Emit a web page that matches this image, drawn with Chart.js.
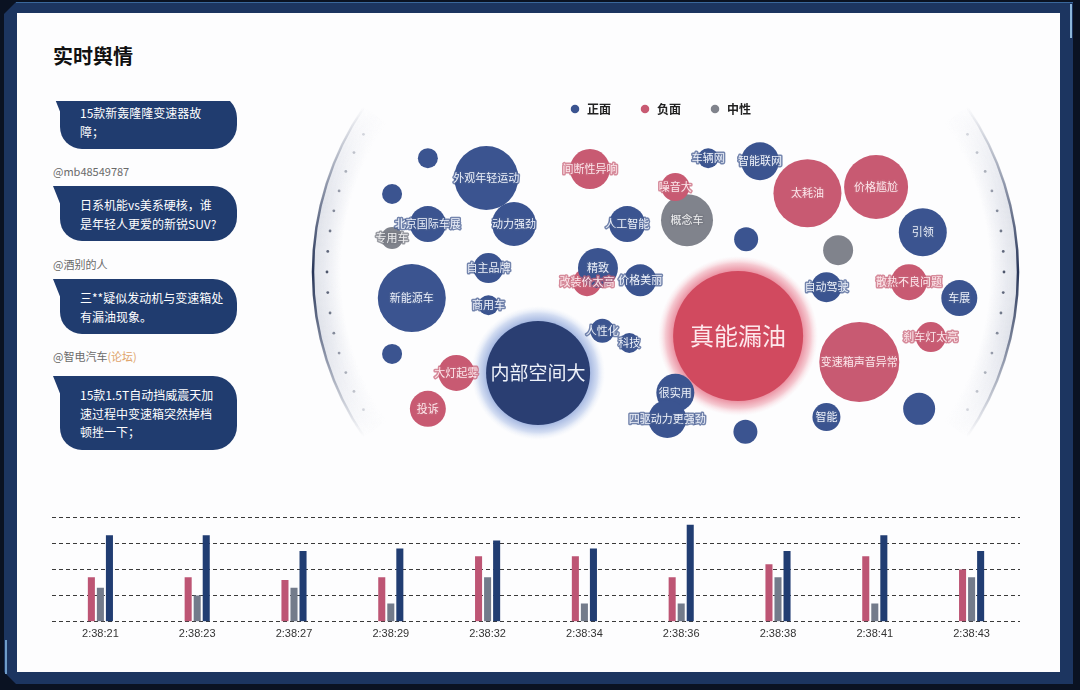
<!DOCTYPE html>
<html>
<head>
<meta charset="utf-8">
<script src="https://cdn.jsdelivr.net/npm/chart.js@4.4.1/dist/chart.umd.min.js"></script>
<style>
  html, body { margin: 0; padding: 0; }
  body {
    width: 1080px; height: 690px; position: relative; overflow: hidden;
    background: #0a1222;
    font-family: "Noto Sans CJK SC", "Noto Sans", sans-serif;
  }
  .frame {
    position: absolute; left: 4px; top: 2px; width: 1069px; height: 682px;
    background: #1c3560;
    clip-path: polygon(12px 0, 100% 0, 100% 100%, 12px 100%, 0 calc(100% - 12px), 0 12px);
  }
  .edge-top { position: absolute; left: 16px; top: 2px; width: 1057px; height: 1px; background: #3a679b; }
  .edge-right { position: absolute; left: 1070px; top: 4px; width: 2px; height: 34px; background: #8cb6da; }
  .edge-left { position: absolute; left: 5px; top: 640px; width: 2px; height: 34px; background: #6f9cc8; }
  .panel {
    position: absolute; left: 17px; top: 13px; width: 1043px; height: 659px;
    background: #fdfdfe;
  }
  h1 {
    position: absolute; left: 53px; top: 43px; margin: 0;
    font-size: 20px; line-height: 26px; font-weight: 700; color: #111;
  }
  .feed { position: absolute; left: 40px; top: 101px; width: 220px; height: 360px; overflow: hidden; }
  .user { position: absolute; left: 13px; font-size: 11px; line-height: 14px; color: #6a6a6a; }
  .user .src { color: #e0a46a; }
  .msg {
    position: absolute; left: 20px; width: 157px;
    padding: 10px 0 8px 20px; box-sizing: content-box;
    background: #203c6f; color: #fff;
    font-size: 12px; line-height: 18.5px;
    border-radius: 0 24px 24px 22px;
  }
  .msg::before {
    content: ""; position: absolute; left: -7px; top: 0; width: 8px; height: 20px;
    background: #203c6f; clip-path: polygon(0 0, 100% 0, 100% 100%);
  }
  canvas { position: absolute; }
</style>
</head>
<body>
<div class="frame"></div>
<div class="edge-top"></div>
<div class="edge-right"></div>
<div class="edge-left"></div>
<div class="panel"></div>
<h1>实时舆情</h1>
<div class="feed">
  <div class="msg" style="top:-7px;">15款新轰隆隆变速器故<br>障；</div>
  <div class="user" style="top:63px;">@mb48549787</div>
  <div class="msg" style="top:85px;">日系机能vs美系硬核，谁<br>是年轻人更爱的新锐SUV?</div>
  <div class="user" style="top:156px;">@酒别的人</div>
  <div class="msg" style="top:178px;">三**疑似发动机与变速箱处<br>有漏油现象。</div>
  <div class="user" style="top:248px;">@智电汽车<span class="src">(论坛)</span></div>
  <div class="msg" style="top:275px;">15款1.5T自动挡威震天加<br>速过程中变速箱突然掉档<br>顿挫一下；</div>
</div>
<canvas id="bubbles" width="730" height="390" style="left:295px; top:75px;"></canvas>
<canvas id="bars" width="968" height="140" style="left:52px; top:510px;"></canvas>
<script>
const cjk = '"Noto Sans CJK SC", "Noto Sans", sans-serif';

// word cloud bubbles: [x, y, size]
const positiveWords = ['', '外观年轻运动', '', '北京国际车展', '动力强劲', '人工智能', '车辆网', '智能联网', '', '引领',
  '自主品牌', '新能源车', '商用车', '精致', '价格美丽', '人性化', '科技', '', '内部空间大', '很实用',
  '四驱动力更强劲', '自动驾驶', '车展', '智能', '', ''];
const positiveXYR = [
  [18.2, 78.7, 10], [26.2, 73.6, 32], [13.3, 69.5, 10], [18.2, 61.8, 18], [30.0, 61.8, 22],
  [45.5, 61.8, 18], [56.6, 78.7, 10], [63.7, 77.9, 19], [61.8, 57.9, 12], [86.0, 59.7, 24],
  [26.5, 50.5, 15], [16.0, 42.8, 34], [26.5, 41.0, 10], [41.5, 50.5, 20], [47.3, 47.4, 16],
  [42.1, 34.4, 12], [45.8, 31.3, 10], [13.3, 28.5, 10], [33.3, 23.6, 52], [52.1, 18.5, 19],
  [51.0, 11.8, 19], [72.8, 45.6, 15], [91.0, 42.8, 18], [72.8, 12.3, 14], [61.7, 8.5, 12],
  [85.5, 14.4, 16]
];
const negativeWords = ['间断性异响', '噪音大', '太耗油', '价格尴尬', '改装价太高', '大灯起雾', '投诉', '真能漏油',
  '散热不良问题', '刹车灯太亮', '变速箱声音异常'];
const negativeXYR = [
  [40.4, 75.9, 20], [52.1, 71.3, 14], [70.2, 69.7, 34], [79.6, 71.3, 32], [40.0, 46.9, 14],
  [22.1, 23.6, 18], [18.2, 14.4, 18], [60.7, 33.1, 65], [84.1, 46.9, 18], [87.1, 32.8, 15],
  [77.3, 26.4, 40]
];
const neutralWords = ['专用车', '概念车', ''];
const neutralXYR = [[13.3, 58.2, 11], [53.7, 62.8, 26], [74.4, 55.1, 15]];

// bar chart
const times = ['2:38:21', '2:38:23', '2:38:27', '2:38:29', '2:38:32', '2:38:34', '2:38:36', '2:38:38', '2:38:41', '2:38:43'];
const negativeCounts = [17, 17, 16, 17, 25, 25, 17, 22, 25, 20];
const neutralCounts = [13, 10, 13, 7, 17, 7, 7, 17, 7, 17];
const positiveCounts = [33, 33, 27, 28, 31, 28, 37, 27, 33, 27];

function toPoints(words, xyr) {
  return xyr.map((p, i) => ({ x: p[0], y: p[1], r: p[2], word: words[i] }));
}

const sideArcs = {
  id: 'sideArcs',
  beforeDatasetsDraw(chart) {
    const ctx = chart.ctx;
    const cy = 197, R = 292, span = 0.6;
    [[310, Math.PI], [431, 0]].forEach(([cx, mid]) => {
      const top = cy - R * Math.sin(span), bot = cy + R * Math.sin(span);
      ctx.save();
      for (let k = 0; k < 28; k++) {
        const a = 0.45 * (1 - k / 28);
        const g = ctx.createLinearGradient(0, top, 0, bot);
        g.addColorStop(0, 'rgba(190,196,212,0)');
        g.addColorStop(0.3, `rgba(190,196,212,${a})`);
        g.addColorStop(0.7, `rgba(190,196,212,${a})`);
        g.addColorStop(1, 'rgba(190,196,212,0)');
        ctx.strokeStyle = g;
        ctx.lineWidth = 1.2;
        ctx.beginPath();
        ctx.arc(cx, cy, R - k, mid - span, mid + span);
        ctx.stroke();
      }
      const lg = ctx.createLinearGradient(0, top, 0, bot);
      lg.addColorStop(0, 'rgba(40,55,90,0)');
      lg.addColorStop(0.5, 'rgba(30,44,80,0.95)');
      lg.addColorStop(1, 'rgba(40,55,90,0)');
      ctx.strokeStyle = lg;
      ctx.lineWidth = 2.5;
      ctx.beginPath();
      ctx.arc(cx, cy, R, mid - span, mid + span);
      ctx.stroke();
      for (let n = -7; n <= 7; n++) {
        const ang = mid + n * 0.074;
        const alpha = 0.85 * (1 - Math.abs(n) / 9);
        ctx.fillStyle = `rgba(50,60,85,${alpha})`;
        ctx.beginPath();
        ctx.arc(cx + (R - 14) * Math.cos(ang), cy + (R - 14) * Math.sin(ang), 1.4, 0, Math.PI * 2);
        ctx.fill();
      }
      ctx.restore();
    });
  }
};

const bubbleLabels = {
  id: 'bubbleLabels',
  beforeDatasetsDraw(chart) {
    const ctx = chart.ctx;
    chart.data.datasets.forEach((ds, i) => {
      chart.getDatasetMeta(i).data.forEach((el, j) => {
        const r = ds.data[j].r;
        if (r < 50) return;
        const g = ctx.createRadialGradient(el.x, el.y, r, el.x, el.y, r + 15);
        g.addColorStop(0, ds.haloColors[0]);
        g.addColorStop(0.5, ds.haloColors[1]);
        g.addColorStop(1, ds.haloColors[2]);
        ctx.save();
        ctx.fillStyle = g;
        ctx.beginPath();
        ctx.arc(el.x, el.y, r + 15, 0, Math.PI * 2);
        ctx.fill();
        ctx.restore();
      });
    });
  },
  afterDatasetsDraw(chart) {
    const ctx = chart.ctx;
    ctx.save();
    ctx.textAlign = 'center';
    ctx.textBaseline = 'middle';
    ctx.lineJoin = 'round';
    chart.data.datasets.forEach((ds, i) => {
      chart.getDatasetMeta(i).data.forEach((el, j) => {
        const d = ds.data[j];
        if (!d.word) return;
        const big = d.r >= 50;
        const size = big ? Math.round(d.r * 0.37) : 11;
        ctx.font = `${size}px ${cjk}`;
        if (!big) {
          ctx.strokeStyle = ds.outline;
          ctx.lineWidth = 3;
          ctx.strokeText(d.word, el.x, el.y);
        }
        ctx.fillStyle = ds.textColor;
        ctx.fillText(d.word, el.x, el.y);
      });
    });
    ctx.restore();
  }
};

new Chart(document.getElementById('bubbles'), {
  type: 'bubble',
  data: {
    datasets: [
      {
        label: '正面', data: toPoints(positiveWords, positiveXYR),
        backgroundColor: c => (c.raw && c.raw.r >= 50 ? '#2a3e72' : '#3b5490'),
        textColor: '#eef2fa', outline: 'rgba(70,92,145,0.75)',
        haloColors: ['#a8bae2', '#d3ddf2', 'rgba(240,244,251,0)']
      },
      {
        label: '负面', data: toPoints(negativeWords, negativeXYR),
        backgroundColor: c => (c.raw && c.raw.r >= 50 ? '#d14a5f' : '#c85a72'),
        textColor: '#fde8ec', outline: 'rgba(200,100,122,0.75)',
        haloColors: ['#eb94a4', '#f5c9d1', 'rgba(251,236,239,0)']
      },
      {
        label: '中性', data: toPoints(neutralWords, neutralXYR),
        backgroundColor: '#80838c',
        textColor: '#eeeeef', outline: 'rgba(120,123,132,0.75)',
        haloColors: ['#ccc', '#ddd', 'rgba(255,255,255,0)']
      }
    ]
  },
  options: {
    responsive: false,
    animation: false,
    events: [],
    elements: { point: { borderWidth: 0, hoverRadius: 0 } },
    layout: { padding: 0, autoPadding: false },
    scales: {
      x: { display: false, min: 0, max: 100 },
      y: { display: false, min: 0, max: 87.2 }
    },
    plugins: {
      tooltip: { enabled: false },
      legend: {
        position: 'top',
        align: 'center',
        labels: {
          usePointStyle: true, pointStyle: 'circle',
          boxWidth: 12, boxHeight: 6, padding: 28,
          color: '#222', font: { size: 12, weight: 'bold', family: cjk }
        }
      }
    }
  },
  plugins: [sideArcs, bubbleLabels]
});

new Chart(document.getElementById('bars'), {
  type: 'bar',
  data: {
    labels: times,
    datasets: [
      { label: '负面', data: negativeCounts, backgroundColor: '#bd5574' },
      { label: '中性', data: neutralCounts, backgroundColor: '#737b8b' },
      { label: '正面', data: positiveCounts, backgroundColor: '#213d72' }
    ]
  },
  options: {
    responsive: false,
    animation: false,
    events: [],
    datasets: { bar: { categoryPercentage: 0.28, barPercentage: 0.78 } },
    layout: { padding: { top: 7, bottom: 3, left: 0, right: 0 } },
    plugins: { legend: { display: false }, tooltip: { enabled: false } },
    scales: {
      x: {
        grid: { display: false, drawTicks: false },
        border: { display: false },
        ticks: { color: '#333', padding: 6, font: { size: 11, family: '"Liberation Sans", Arial, sans-serif' } }
      },
      y: {
        min: 0, max: 40,
        ticks: { display: false, stepSize: 10 },
        grid: { color: '#3a3a3a', lineWidth: 1, drawTicks: false },
        border: { display: false, dash: [4, 3] }
      }
    }
  }
});
</script>
</body>
</html>
